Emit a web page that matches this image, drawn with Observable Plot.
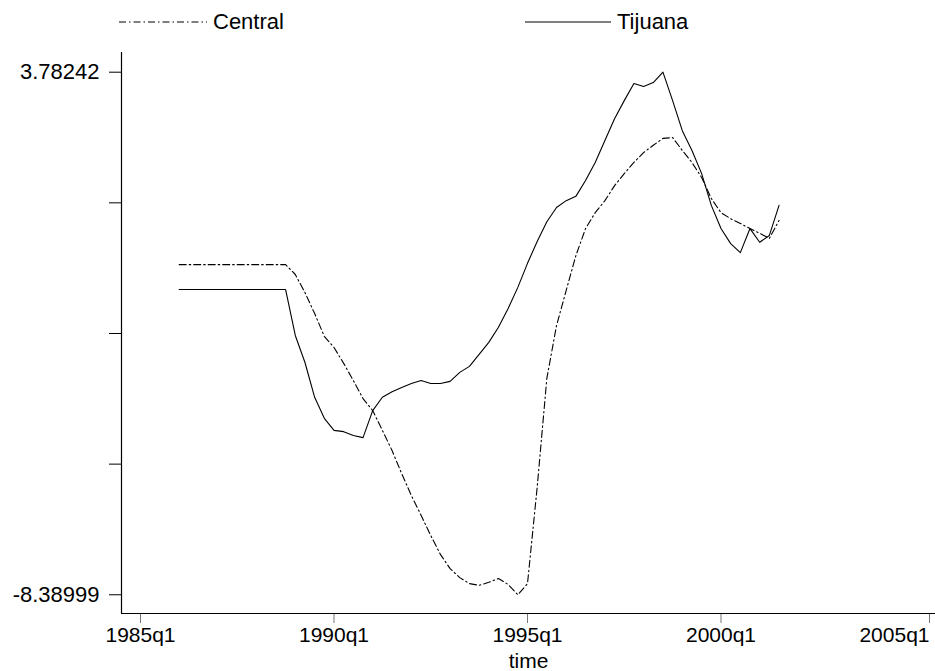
<!DOCTYPE html>
<html>
<head>
<meta charset="utf-8">
<script src="https://cdn.jsdelivr.net/npm/d3@7"></script>
<script src="https://cdn.jsdelivr.net/npm/@observablehq/plot@0.6"></script>
<style>
  html, body { margin: 0; padding: 0; background: #fff; }
  body { width: 935px; height: 671px; overflow: hidden; font-family: "Liberation Sans", Arial, sans-serif; }
  #legend { position: relative; width: 935px; height: 40px; font-size: 22px; color: #000; }
  .item { position: absolute; top: 9px; height: 26px; display: flex; align-items: center; }
  .item svg { display: block; }
  .item span { margin-left: 6px; line-height: 26px; }
</style>
</head>
<body>
<div id="legend"></div>
<div id="chart"></div>
<script>
// ---- data ----
const quarters = [
  "1986q1","1986q2","1986q3","1986q4","1987q1","1987q2","1987q3","1987q4",
  "1988q1","1988q2","1988q3","1988q4","1989q1","1989q2","1989q3","1989q4",
  "1990q1","1990q2","1990q3","1990q4","1991q1","1991q2","1991q3","1991q4",
  "1992q1","1992q2","1992q3","1992q4","1993q1","1993q2","1993q3","1993q4",
  "1994q1","1994q2","1994q3","1994q4","1995q1","1995q2","1995q3","1995q4",
  "1996q1","1996q2","1996q3","1996q4","1997q1","1997q2","1997q3","1997q4",
  "1998q1","1998q2","1998q3","1998q4","1999q1","1999q2","1999q3","1999q4",
  "2000q1","2000q2","2000q3","2000q4","2001q1","2001q2","2001q3"
];
const central = [
  -0.70,-0.70,-0.70,-0.70,-0.70,-0.70,-0.70,-0.70,
  -0.70,-0.70,-0.70,-0.70,-0.93,-1.35,-1.84,-2.37,
  -2.63,-3.00,-3.40,-3.82,-4.10,-4.56,-5.03,-5.57,
  -6.08,-6.54,-7.01,-7.45,-7.78,-7.99,-8.13,-8.17,
  -8.10,-8.01,-8.15,-8.38999,-8.13,-5.89,-3.35,-2.12,
  -1.30,-0.49,0.14,0.51,0.79,1.14,1.42,1.68,
  1.91,2.08,2.24,2.26,1.96,1.68,1.33,0.84,
  0.51,0.37,0.26,0.14,0.03,-0.09,0.33
];
const tijuana = [
  -1.28,-1.28,-1.28,-1.28,-1.28,-1.28,-1.28,-1.28,
  -1.28,-1.28,-1.28,-1.28,-2.35,-2.98,-3.79,-4.28,
  -4.56,-4.59,-4.68,-4.73,-4.10,-3.79,-3.66,-3.56,
  -3.47,-3.40,-3.47,-3.47,-3.42,-3.21,-3.07,-2.79,
  -2.51,-2.16,-1.72,-1.23,-0.67,-0.16,0.30,0.63,
  0.79,0.89,1.26,1.68,2.19,2.70,3.12,3.52,
  3.45,3.54,3.78242,3.12,2.42,1.96,1.42,0.68,
  0.14,-0.21,-0.42,0.14,-0.18,-0.02,0.68
];
const seriesNames = ["Central", "Tijuana"];
const xTickLabels = ["1985q1","1990q1","1995q1","2000q1","2005q1"];
const yTickValues = [-8.38999, -5.346887, -2.303785, 0.739318, 3.78242];
const yTickLabels = ["-8.38999", "", "", "", "3.78242"];
const xTitle = "time";

// ---- build ----
const toYear = s => +s.slice(0, 4) + (+s.slice(5) - 1) / 4;
const rows = quarters.map((q, i) => ({t: toYear(q), central: central[i], tijuana: tijuana[i]}));
const xTicks = xTickLabels.map(toYear);
const xFmt = d => xTickLabels[xTicks.indexOf(d)];
const yFmt = d => yTickLabels[yTickValues.indexOf(d)];
const dash = "7,3,1.5,3";
const FONT = "\"Liberation Sans\", Arial, sans-serif";

const xDomain = [1984.509, 2005.543];
const yDomain = [-8.826, 4.241];

const chart = Plot.plot({
  width: 935,
  height: 631,
  marginLeft: 121,
  marginRight: 0,
  marginTop: 12,
  marginBottom: 58,
  style: {fontFamily: FONT, fontSize: "22px", background: "#fff", color: "#000", overflow: "visible"},
  x: {domain: xDomain, axis: null},
  y: {domain: yDomain, axis: null},
  marks: [
    Plot.axisY({ticks: yTickValues, tickSize: 12, tickPadding: 10, tickFormat: yFmt, stroke: "#000", fill: "#000", label: null}),
    Plot.axisX({ticks: xTicks.slice(0, 4), tickSize: 10, tickPadding: 4, tickFormat: xFmt, stroke: "#777", fill: "#000", fontSize: 21, label: null}),
    Plot.axisX({ticks: xTicks.slice(4), tickSize: 10, tickPadding: 4, tickFormat: xFmt, stroke: "#777", fill: "#000", fontSize: 21, textAnchor: "end", dx: 15, label: null}),
    Plot.ruleX([xDomain[0]], {stroke: "#000", strokeWidth: 1.2}),
    Plot.ruleY([yDomain[0]], {stroke: "#000", strokeWidth: 1.2}),
    Plot.text([xTitle], {text: d => d, frameAnchor: "bottom", dy: 48, lineAnchor: "middle", fill: "#000", fontSize: 21}),
    Plot.line(rows, {x: "t", y: "central", stroke: "#000", strokeWidth: 1.1, strokeDasharray: dash}),
    Plot.line(rows, {x: "t", y: "tijuana", stroke: "#000", strokeWidth: 1.1})
  ]
});
document.getElementById("chart").appendChild(chart);

// ---- legend ----
const legend = document.getElementById("legend");
const legendItems = [
  {name: seriesNames[0], left: 119, w: 88, dash: dash},
  {name: seriesNames[1], left: 525, w: 86, dash: null}
];
legendItems.forEach(it => {
  const div = document.createElement("div");
  div.className = "item";
  div.style.left = it.left + "px";
  const ns = "http://www.w3.org/2000/svg";
  const svg = document.createElementNS(ns, "svg");
  svg.setAttribute("width", it.w);
  svg.setAttribute("height", 10);
  const ln = document.createElementNS(ns, "line");
  ln.setAttribute("x1", 0); ln.setAttribute("x2", it.w);
  ln.setAttribute("y1", 5); ln.setAttribute("y2", 5);
  ln.setAttribute("stroke", "#000");
  ln.setAttribute("stroke-width", 1.1);
  if (it.dash) ln.setAttribute("stroke-dasharray", it.dash);
  svg.appendChild(ln);
  const span = document.createElement("span");
  span.textContent = it.name;
  div.appendChild(svg);
  div.appendChild(span);
  legend.appendChild(div);
});
</script>
</body>
</html>
